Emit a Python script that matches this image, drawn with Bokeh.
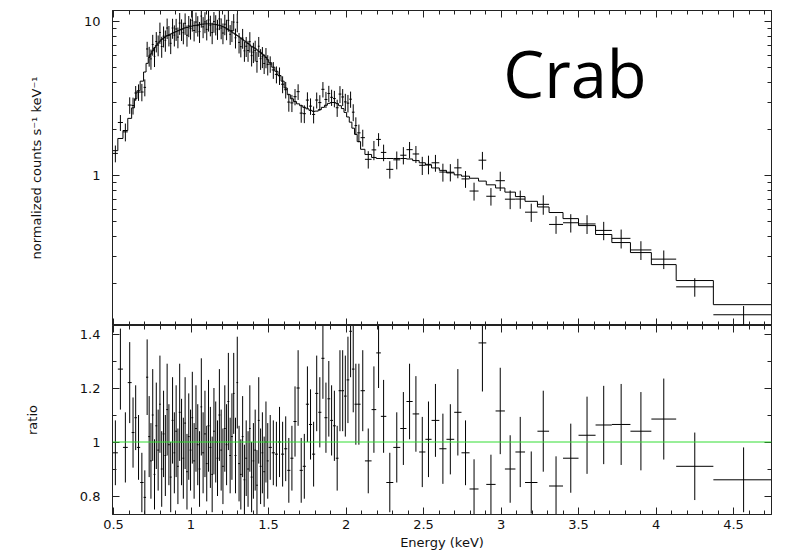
import numpy as np
from bokeh.plotting import figure
from bokeh.layouts import column
from bokeh.models import (ColumnDataSource, LinearAxis, LogAxis, Span, Label,
                          SingleIntervalTicker, LogTicker, CustomJSTickFormatter, Range1d)
from bokeh.embed import file_html
from bokeh.resources import INLINE

# ---------------- data ----------------
bin_edges_kev = [
    0.496, 0.528, 0.561, 0.592, 0.617, 0.635, 0.651, 0.672, 0.694, 0.710,
    0.724, 0.736, 0.747, 0.759, 0.770, 0.782, 0.794, 0.805, 0.817, 0.829,
    0.840, 0.852, 0.863, 0.875, 0.887, 0.898, 0.910, 0.921, 0.933, 0.945,
    0.956, 0.968, 0.980, 0.991, 1.003, 1.014, 1.026, 1.038, 1.049, 1.061,
    1.072, 1.084, 1.096, 1.107, 1.119, 1.131, 1.142, 1.154, 1.165, 1.177,
    1.189, 1.200, 1.212, 1.224, 1.235, 1.247, 1.258,
    1.270, 1.281, 1.293, 1.304, 1.316, 1.327, 1.339, 1.350, 1.362, 1.374,
    1.385, 1.397, 1.408, 1.420, 1.431, 1.443, 1.455, 1.466, 1.478, 1.489,
    1.501, 1.521, 1.541, 1.561, 1.581, 1.601, 1.621, 1.641, 1.661, 1.681,
    1.701, 1.721, 1.741, 1.761, 1.781, 1.801, 1.821, 1.841, 1.861, 1.880,
    1.898, 1.916, 1.934, 1.952, 1.970, 1.987, 2.004, 2.021, 2.038, 2.055,
    2.072, 2.094,
    2.122, 2.165, 2.195, 2.225, 2.260, 2.305, 2.350, 2.390, 2.430, 2.472,
    2.512, 2.552, 2.602, 2.648, 2.698, 2.745, 2.797, 2.855, 2.905, 2.965,
    3.025, 3.093, 3.155, 3.235, 3.310, 3.400, 3.500, 3.610, 3.715, 3.835,
    3.970, 4.130, 4.370, 4.760,
]

model_counts = [
    1.45, 1.74, 1.96, 2.35, 2.75, 3.15, 3.55, 4.10, 4.70, 5.35,
    5.85, 6.15, 6.45, 6.75, 7.00, 7.25, 7.45, 7.65, 7.80, 7.95,
    8.10, 8.20, 8.30, 8.40, 8.50, 8.60, 8.70, 8.80, 8.90, 9.00,
    9.10, 9.15, 9.20, 9.30, 9.35, 9.40, 9.45, 9.50, 9.55, 9.60,
    9.62, 9.65, 9.66, 9.66, 9.65, 9.63, 9.60, 9.55, 9.50, 9.45,
    9.35, 9.25, 9.15, 9.00, 8.85, 8.70, 8.55,
    8.40, 8.25, 8.10, 7.95, 7.80, 7.65, 7.50, 7.35, 7.20, 7.05,
    6.90, 6.80, 6.70, 6.55, 6.40, 6.30, 6.15, 6.00, 5.85, 5.65,
    5.40, 5.05, 4.75, 4.45, 4.10, 3.70, 3.35, 3.15, 3.02, 2.92,
    2.84, 2.77, 2.71, 2.65, 2.61, 2.62, 2.68, 2.77, 2.86, 2.94,
    2.98, 2.98, 2.93, 2.84, 2.72, 2.57, 2.40, 2.22, 2.03, 1.85,
    1.66, 1.48,
    1.37, 1.31, 1.29, 1.29, 1.29, 1.29, 1.29, 1.28, 1.25, 1.21,
    1.17, 1.12, 1.08, 1.04, 1.01, 0.99, 0.96, 0.92, 0.87, 0.83,
    0.78, 0.73, 0.68, 0.625, 0.575, 0.525, 0.473, 0.414, 0.367, 0.316,
    0.264, 0.208, 0.145,
]

ratio_values = [
    0.96, 1.27, 0.98, 1.22, 1.035, 1.09, 0.98, 0.85, 0.795, 1.24,
    1.02, 0.93, 1.10, 0.88, 1.06, 0.97, 1.14, 0.90, 1.03, 0.95,
    1.12, 0.99, 0.87, 1.08, 0.96, 1.04, 0.91, 1.11, 1.00, 0.94,
    1.07, 0.89, 1.02, 0.97, 1.09, 0.93, 1.05, 0.99, 0.90, 1.13,
    0.96, 1.03, 0.92, 1.06, 0.98, 0.88, 1.04, 1.00, 0.94, 1.10,
    0.97, 0.91, 1.05, 0.99, 1.15, 0.95, 1.02,
    1.18, 0.95, 1.22, 0.92, 0.88, 1.02, 0.86, 0.94, 0.90, 1.05,
    0.87, 0.93, 0.97, 0.84, 1.08, 0.91, 0.96, 0.89, 1.00, 0.93,
    0.98, 0.96, 0.955, 1.00, 0.955, 0.975, 0.895, 0.94, 1.076, 1.20,
    0.895, 0.91, 1.14, 1.065, 0.955, 1.18, 1.11, 1.31, 1.09, 1.16,
    1.08, 1.06, 0.94, 1.19, 1.19, 1.17, 1.23, 1.41, 1.27, 1.14,
    1.14, 1.19,
    0.93, 1.12, 1.33, 1.095, 0.85, 0.98, 1.05, 1.15, 1.104, 0.963,
    1.01, 1.08, 0.975, 1.01, 1.11, 0.96, 0.826, 1.367, 0.843, 1.115,
    0.90, 0.963, 0.85, 1.04, 0.837, 0.94, 1.025, 1.063, 1.065, 1.04,
    1.085, 0.91, 0.86,
]

ratio_errors = [
    0.12, 0.15, 0.13, 0.15, 0.13, 0.12, 0.12, 0.11, 0.10, 0.14,
    0.15, 0.14, 0.17, 0.13, 0.16, 0.15, 0.18, 0.14, 0.16, 0.15,
    0.17, 0.15, 0.13, 0.16, 0.15, 0.17, 0.14, 0.18, 0.16, 0.15,
    0.17, 0.14, 0.16, 0.15, 0.17, 0.14, 0.16, 0.15, 0.14, 0.18,
    0.15, 0.16, 0.14, 0.17, 0.15, 0.14, 0.16, 0.15, 0.14, 0.17,
    0.15, 0.14, 0.16, 0.15, 0.18, 0.14, 0.16,
    0.15, 0.14, 0.17, 0.14, 0.13, 0.15, 0.13, 0.14, 0.14, 0.16,
    0.13, 0.14, 0.15, 0.13, 0.16, 0.14, 0.15, 0.13, 0.15, 0.14,
    0.12, 0.12, 0.12, 0.13, 0.12, 0.12, 0.12, 0.12, 0.13, 0.14,
    0.12, 0.12, 0.14, 0.13, 0.12, 0.14, 0.13, 0.15, 0.13, 0.14,
    0.13, 0.13, 0.12, 0.15, 0.15, 0.15, 0.16, 0.17, 0.16, 0.15,
    0.15, 0.15,
    0.12, 0.16, 0.13, 0.135, 0.11, 0.13, 0.135, 0.14, 0.14, 0.13,
    0.14, 0.135, 0.13, 0.13, 0.16, 0.12, 0.11, 0.18, 0.11, 0.16,
    0.125, 0.13, 0.115, 0.15, 0.11, 0.128, 0.143, 0.145, 0.15, 0.145,
    0.15, 0.125, 0.12,
]

ratio_reference = 1.0
x_tick_interval = 0.5
ratio_tick_interval = 0.2

# ---------------- derived columns ----------------
edges = np.array(bin_edges_kev)
lo, hi = edges[:-1], edges[1:]
center = (lo + hi) / 2
model = np.array(model_counts)
ratio = np.array(ratio_values)
rerr = np.array(ratio_errors)
counts = model * ratio
cerr = model * rerr

src = ColumnDataSource(dict(lo=lo, hi=hi, c=center,
                            counts=counts, c_lo=counts - cerr, c_hi=counts + cerr,
                            ratio=ratio, r_lo=ratio - rerr, r_hi=ratio + rerr))
step_x = np.column_stack([lo, hi]).ravel()
step_y = np.repeat(model, 2)

AX = "#222222"
TICK_FONT = "DejaVu Sans"


def fmt():
    return CustomJSTickFormatter(code="return String(Math.round(tick * 1000) / 1000);")


def style_axis(ax, labels=True):
    ax.formatter = fmt()
    ax.major_tick_in = 7
    ax.major_tick_out = 0
    ax.minor_tick_in = 4
    ax.minor_tick_out = 0
    ax.axis_line_color = AX
    ax.major_tick_line_color = AX
    ax.minor_tick_line_color = AX
    ax.major_label_text_font = TICK_FONT
    ax.major_label_text_font_size = "13px"
    ax.major_label_text_color = "#111111" if labels else None
    ax.axis_label_text_font = TICK_FONT
    ax.axis_label_text_font_size = "13px"
    ax.axis_label_text_font_style = "normal"
    ax.axis_label_text_color = "#111111"


def x_ticker():
    return SingleIntervalTicker(interval=x_tick_interval, num_minor_ticks=5)


def r_ticker():
    return SingleIntervalTicker(interval=ratio_tick_interval, num_minor_ticks=2)


x_range = Range1d(0.4935, 4.745)

# ---------------- top panel ----------------
p1 = figure(width=785, height=325, x_range=x_range, y_range=Range1d(0.1062, 11.79),
            y_axis_type="log", output_backend="svg", toolbar_location=None,
            min_border=0, min_border_left=112, min_border_right=14,
            min_border_top=10, min_border_bottom=0)
p1.grid.visible = False
p1.outline_line_color = AX

p1.segment(x0="lo", x1="hi", y0="counts", y1="counts", source=src,
           line_color="black", line_width=1)
p1.segment(x0="c", x1="c", y0="c_lo", y1="c_hi", source=src,
           line_color="black", line_width=1)
p1.line(step_x, step_y, line_color="black", line_width=1)

p1.xaxis.ticker = x_ticker()
style_axis(p1.xaxis[0], labels=False)
style_axis(p1.yaxis[0], labels=True)
p1.yaxis.major_label_standoff = 12
p1.yaxis.axis_label = "normalized counts s\u207b\u00b9 keV\u207b\u00b9"
p1.yaxis.axis_label_standoff = 37

top_ax = LinearAxis(ticker=x_ticker())
style_axis(top_ax, labels=False)
p1.add_layout(top_ax, "above")
right_ax1 = LogAxis(ticker=LogTicker(num_minor_ticks=10))
style_axis(right_ax1, labels=False)
p1.add_layout(right_ax1, "right")

p1.add_layout(Label(x=3.014, y=4.6, text="Crab", text_font="Open Sans",
                    text_font_size="65px", text_color="black",
                    text_baseline="alphabetic"))

# ---------------- ratio panel ----------------
p2 = figure(width=785, height=227, x_range=x_range, y_range=Range1d(0.7315, 1.4315),
            output_backend="svg", toolbar_location=None,
            min_border=0, min_border_left=112, min_border_right=14,
            min_border_top=0, min_border_bottom=38)
p2.grid.visible = False
p2.outline_line_color = AX

p2.segment(x0="lo", x1="hi", y0="ratio", y1="ratio", source=src,
           line_color="black", line_width=1)
p2.segment(x0="c", x1="c", y0="r_lo", y1="r_hi", source=src,
           line_color="black", line_width=1)
p2.add_layout(Span(location=ratio_reference, dimension="width",
                   line_color="#33dd33", line_width=1))

p2.xaxis.ticker = x_ticker()
style_axis(p2.xaxis[0], labels=True)
p2.xaxis.major_label_standoff = 5
p2.xaxis.axis_label = "Energy (keV)"
p2.xaxis.axis_label_standoff = 3

p2.yaxis.ticker = r_ticker()
style_axis(p2.yaxis[0], labels=True)
p2.yaxis.major_label_standoff = 12
p2.yaxis.axis_label = "ratio"
p2.yaxis.axis_label_standoff = 37

top_ax2 = LinearAxis(ticker=x_ticker())
style_axis(top_ax2, labels=False)
p2.add_layout(top_ax2, "above")
right_ax2 = LinearAxis(ticker=r_ticker())
style_axis(right_ax2, labels=False)
p2.add_layout(right_ax2, "right")

layout = column(p1, p2, spacing=0)
open("out.html", "w").write(file_html(layout, INLINE))
